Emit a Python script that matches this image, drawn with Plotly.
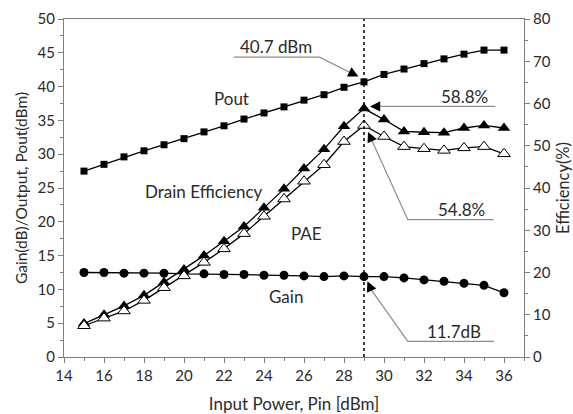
import plotly.graph_objects as go

pin = list(range(15, 37))
pout = [27.5, 28.5, 29.6, 30.5, 31.4, 32.3, 33.3, 34.2, 35.2, 36.1, 37.0, 38.0,
        38.8, 39.9, 40.7, 41.8, 42.6, 43.4, 44.1, 44.8, 45.4, 45.4]
gain = [12.5, 12.5, 12.4, 12.4, 12.4, 12.3, 12.3, 12.2, 12.2, 12.1, 12.1, 12.0,
        11.9, 12.0, 11.9, 11.9, 11.7, 11.4, 11.2, 10.9, 10.6, 9.5]
drain_eff = [7.9, 10.0, 12.1, 14.6, 17.7, 20.7, 24.0, 27.4, 30.9, 35.3, 39.8, 44.6,
             49.2, 54.6, 58.8, 56.2, 53.4, 53.2, 53.1, 54.2, 54.8, 54.2]
pae = [7.4, 9.2, 10.9, 13.4, 16.4, 19.2, 22.4, 25.6, 29.2, 33.3, 37.4, 41.6,
       45.5, 51.0, 54.8, 52.2, 49.8, 49.3, 48.9, 49.5, 49.8, 48.1]

FONT = "Lato"
TXT = "#2a2a2a"
AX = "#7f7f7f"
LEAD = "#8c8c8c"

fig = go.Figure()
fig.add_trace(go.Scatter(x=pin, y=pout, mode="lines+markers", line=dict(color="black", width=1.3),
                         marker=dict(symbol="square", size=7, color="black")))
fig.add_trace(go.Scatter(x=pin, y=gain, mode="lines+markers", line=dict(color="black", width=1.3),
                         marker=dict(symbol="circle", size=9, color="black")))
fig.add_trace(go.Scatter(x=pin, y=drain_eff, yaxis="y2", mode="lines+markers", line=dict(color="black", width=1.3),
                         marker=dict(symbol="triangle-up", size=11, color="black")))
fig.add_trace(go.Scatter(x=pin, y=pae, yaxis="y2", mode="lines+markers", line=dict(color="black", width=1.3),
                         marker=dict(symbol="triangle-up", size=11, color="white", line=dict(color="black", width=1))))

axis_common = dict(showline=True, linecolor=AX, linewidth=1.2, ticks="outside", ticklen=5,
                   tickcolor=AX, showgrid=False, zeroline=False, automargin=False,
                   tickfont=dict(family=FONT, size=15, color=TXT))

fig.update_layout(
    width=573, height=414, margin=dict(l=64, r=49, t=19, b=57),
    paper_bgcolor="white", plot_bgcolor="white", showlegend=False,
    xaxis=dict(range=[14, 37], tickvals=list(range(14, 37, 2)), mirror=True,
               minor=dict(dtick=1, ticks="outside", ticklen=3, tickcolor=AX),
               title=dict(text="Input Power, Pin [dBm]", font=dict(family=FONT, size=17, color=TXT), standoff=16),
               **axis_common),
    yaxis=dict(range=[0, 50], dtick=5,
               minor=dict(dtick=2.5, ticks="outside", ticklen=3, tickcolor=AX),
               title=dict(text="Gain(dB)/Output, Pout(dBm)", font=dict(family=FONT, size=15.5, color=TXT), standoff=6),
               **axis_common),
    yaxis2=dict(range=[0, 80], dtick=10, overlaying="y", side="right",
                minor=dict(dtick=5, ticks="outside", ticklen=3, tickcolor=AX),
                title=dict(text="Efficiency(%)", font=dict(family=FONT, size=16.5, color=TXT), standoff=14),
                **axis_common),
)

# vertical dotted marker line at Pin = 29
fig.add_shape(type="line", x0=29, x1=29, y0=0, y1=1, xref="x", yref="paper",
              line=dict(color="black", width=1.5, dash="dot"))

# leader lines
leaders = [
    [(22.49, 44.35), (26.78, 44.35), (28.5, 41.8)],
    [(35.57, 37.07), (29.6, 37.07)],
    [(29.4, 32.0), (31.19, 20.31), (35.48, 20.31)],
    [(29.35, 10.0), (31.19, 2.31), (35.5, 2.31)],
]
for pts in leaders:
    path = "M " + " L ".join(f"{x},{y}" for x, y in pts)
    fig.add_shape(type="path", path=path, xref="x", yref="y", line=dict(color=LEAD, width=1.2))

# arrowheads
heads = [
    (28.72, 41.5, 28.45, 41.9),
    (29.3, 37.07, 29.75, 37.07),
    (29.2, 33.3, 29.4, 32.0),
    (29.17, 11.2, 29.35, 10.0),
]
for x, y, ax, ay in heads:
    fig.add_annotation(x=x, y=y, ax=ax, ay=ay, xref="x", yref="y", axref="x", ayref="y",
                       showarrow=True, arrowhead=2, arrowsize=1.7, arrowwidth=1.2, arrowcolor="black", text="")

labels = [
    ("40.7 dBm", 24.62, 45.95),
    ("58.8%", 34.02, 38.55),
    ("54.8%", 33.85, 21.8),
    ("11.7dB", 33.52, 3.79),
    ("Pout", 22.37, 38.2),
    ("Drain Efficiency", 20.95, 24.5),
    ("PAE", 26.12, 18.3),
    ("Gain", 25.12, 8.96),
]
for t, x, y in labels:
    fig.add_annotation(x=x, y=y, xref="x", yref="y", text=t, showarrow=False,
                       font=dict(family=FONT, size=17, color=TXT))

fig.write_html("out.html")
